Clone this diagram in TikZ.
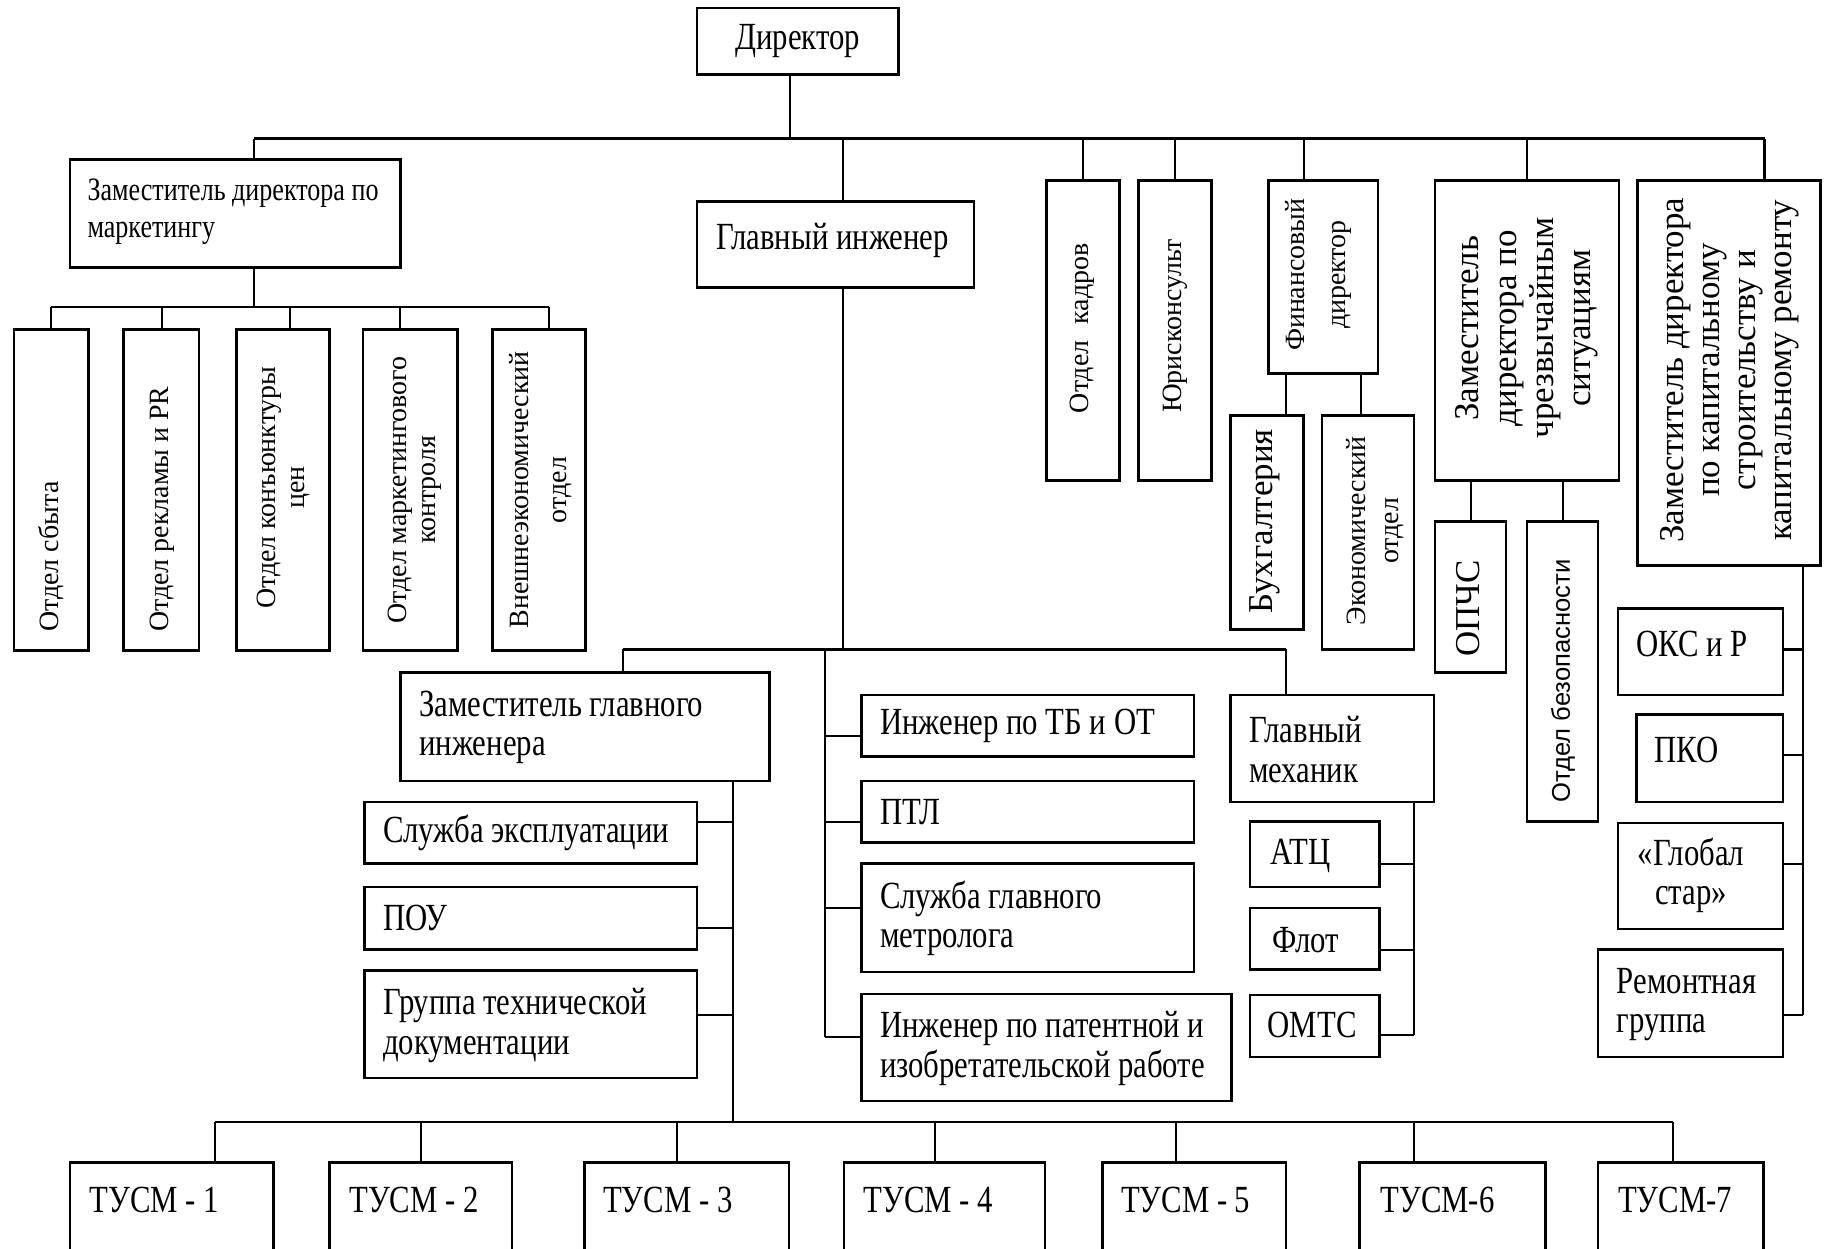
\documentclass[tikz,border=0pt]{standalone}
\usepackage{fontspec}
\setmainfont{Liberation Serif}
\newfontfamily\hfont[FakeStretch=0.8]{Liberation Serif}
\newfontfamily\vfont{Liberation Serif}
\newfontfamily\sfont{Liberation Sans}

\tikzset{
  box/.style={draw, line width=2.2pt, inner sep=0pt, outer sep=0pt},
  link/.style={line width=1.8pt},
  htxt/.style={inner sep=0pt, align=left, font=\hfont\fontsize{33}{34}\selectfont},
  mtxt/.style={htxt, font=\hfont\fontsize{28}{32}\selectfont},
  vtxt/.style={inner sep=0pt, align=center, rotate=90, font=\vfont\fontsize{24}{25}\selectfont},
  vbig/.style={vtxt, font=\vfont\fontsize{30}{32}\selectfont},
}

% rectangle given by its corners: name, x1, y1, x2, y2
\newcommand\bx[5]{%
  \pgfmathsetmacro\bxw{#4-#2}%
  \pgfmathsetmacro\bxh{#5-#3}%
  \pgfmathsetmacro\bxcx{(#2+#4)/2}%
  \pgfmathsetmacro\bxcy{(#3+#5)/2}%
  \node[box, minimum width=\bxw pt, minimum height=\bxh pt] (#1) at (\bxcx,\bxcy) {};}
% vertical drop from a box top (shifted) up to the level of a coordinate
\newcommand\drop[3]{%
  \path ([xshift=#2]#1.north) coordinate (#1-d);
  \draw[link] (#1-d) -- (#1-d |- #3);}
% horizontal tie from a box side (shifted) to a vertical stem
\newcommand\branch[4]{%
  \path ([yshift=#3]#1.#2) coordinate (#1-b);
  \draw[link] (#1-b) -- (#1-b -| #4);}

\begin{document}
\begin{tikzpicture}[x=1pt, y=-1pt]
\clip (0,0) rectangle (1568,1073);
\fill[white] (0,0) rectangle (1568,1073);

% ---- boxes ----
\bx{dir}{599}{7}{772}{64}
\bx{mkt}{60}{137}{344}{230}
\bx{gi}{599}{173}{837}{247}
\bx{kadr}{899}{155}{962}{413}
\bx{jur}{978}{155}{1041}{413}
\bx{fin}{1090}{155}{1184}{321}
\bx{buh}{1057}{357}{1120}{541}
\bx{eco}{1136}{357}{1215}{558}
\bx{chs}{1233}{155}{1391}{413}
\bx{opchs}{1233}{448}{1294}{578}
\bx{bez}{1312}{448}{1373}{706}
\bx{kap}{1407}{155}{1564}{486}
\bx{m1}{12}{283}{76}{559}
\bx{m2}{106}{283}{171}{559}
\bx{m3}{203}{283}{283}{559}
\bx{m4}{312}{283}{393}{559}
\bx{m5}{423}{283}{503}{559}
\bx{zgi}{344}{578}{661}{671}
\bx{se}{313}{689}{599}{742}
\bx{pou}{313}{762}{599}{816}
\bx{gtd}{313}{834}{599}{926}
\bx{tb}{740}{597}{1026}{650}
\bx{ptl}{740}{671}{1026}{724}
\bx{met}{740}{742}{1026}{835}
\bx{pat}{740}{854}{1058}{946}
\bx{gm}{1057}{597}{1232}{689}
\bx{atc}{1074}{706}{1185}{762}
\bx{flot}{1074}{780}{1185}{833}
\bx{omts}{1074}{855}{1185}{908}
\bx{oks}{1390}{523}{1532}{597}
\bx{pko}{1406}{614}{1532}{689}
\bx{glob}{1390}{707}{1532}{798}
\bx{rem}{1373}{816}{1532}{908}
\bx{t1}{60}{999}{235}{1100}
\bx{t2}{283}{999}{440}{1100}
\bx{t3}{502}{999}{678}{1100}
\bx{t4}{725}{999}{898}{1100}
\bx{t5}{947}{999}{1105}{1100}
\bx{t6}{1168}{999}{1328}{1100}
\bx{t7}{1373}{999}{1515}{1100}

% ---- horizontal labels ----
\node[htxt] (dir-t) at (dir) {Директор};
\node[mtxt, anchor=west] (mkt-t) at (75,182) {Заместитель директора по\\маркетингу};
\node[htxt, anchor=west] (gi-t) at (615,207) {Главный инженер};
\node[htxt, anchor=west] (zgi-t) at (360,625) {Заместитель главного\\инженера};
\node[htxt, anchor=west] (se-t) at (329,716) {Служба эксплуатации};
\node[htxt, anchor=west] (pou-t) at (329,789) {ПОУ};
\node[htxt, anchor=west] (gtd-t) at (329,881) {Группа технической\\документации};
\node[htxt, anchor=west] (tb-t) at (756,624) {Инженер по ТБ и ОТ};
\node[htxt, anchor=west] (ptl-t) at (756,698) {ПТЛ};
\node[htxt, anchor=west] (met-t) at (756,789) {Служба главного\\метролога};
\node[htxt, anchor=west] (pat-t) at (756,901) {Инженер по патентной и\\изобретательской работе};
\node[htxt, anchor=west] (gm-t) at (1073,644) {Главный\\механик};
\node[htxt, anchor=west] (atc-t) at (1091,735) {АТЦ};
\node[htxt, anchor=west] (flot-t) at (1093,808) {Флот};
\node[htxt, anchor=west] (omts-t) at (1089,881) {ОМТС};
\node[htxt, anchor=west] (oks-t) at (1406,553) {ОКС и Р};
\node[htxt, anchor=west] (pko-t) at (1421,644) {ПКО};
\node[htxt, anchor=west, align=center] (glob-t) at (1407,752) {«Глобал\\стар»};
\node[htxt, anchor=west] (rem-t) at (1389,863) {Ремонтная\\группа};
\node[htxt, anchor=west] (t1-t) at (77,1031) {ТУСМ - 1};
\node[htxt, anchor=west] (t2-t) at (300,1031) {ТУСМ - 2};
\node[htxt, anchor=west] (t3-t) at (518,1031) {ТУСМ - 3};
\node[htxt, anchor=west] (t4-t) at (742,1031) {ТУСМ - 4};
\node[htxt, anchor=west] (t5-t) at (963,1031) {ТУСМ - 5};
\node[htxt, anchor=west] (t6-t) at (1186,1031) {ТУСМ-6};
\node[htxt, anchor=west] (t7-t) at (1390,1031) {ТУСМ-7};

% ---- vertical labels ----
\node[vtxt, anchor=west] (m1-t) at (44,543) {Отдел сбыта};
\node[vtxt, anchor=west] (m2-t) at (139,543) {Отдел рекламы и PR};
\node[vtxt] (m3-t) at (243.5,419) {Отдел конъюнктуры\\цен};
\node[vtxt] (m4-t) at (356,421) {Отдел маркетингового\\контроля};
\node[vtxt] (m5-t) at (464.5,421) {Внешнеэкономический\\[8pt]отдел};
\node[vtxt] (kadr-t) at (929.5,282) {Отдел\hspace{8pt} кадров};
\node[vtxt] (jur-t) at (1010,280) {Юрисконсульт};
\node[vtxt] (fin-t) at (1132.5,236) {Финансовый\\[10pt]директор};
\node[vbig] (buh-t) at (1087,448) {Бухгалтерия};
\node[vtxt] (eco-t) at (1181.5,456) {Экономический\\[4pt]отдел};
\node[vbig] (chs-t) at (1312,282) {Заместитель\\директора по\\чрезвычайным\\ситуациям};
\node[vbig] (opchs-t) at (1261,523) {ОПЧС};
\node[vtxt, font=\sfont\fontsize{22}{24}\selectfont] (bez-t) at (1343,585) {Отдел безопасности};
\node[vbig, font=\vfont\fontsize{30}{31}\selectfont] (kap-t) at (1486,318)
  {Заместитель директора\\по капитальному\\строительству и\\капитальному ремонту};

% ---- top level ----
\coordinate (j0) at (679,119);
\coordinate (busL) at (218,119);
\coordinate (busR) at (1516,119);
\draw[link] (dir.south -| j0) -- (j0);
\draw[link] (busL) -- (busR);
\draw[link] (busL) -- (busL |- mkt.north);
\draw[link] (busR) -- (busR |- kap.north);
\drop{gi}{6pt}{j0}
\drop{kadr}{0pt}{j0}
\drop{jur}{0pt}{j0}
\drop{fin}{-17pt}{j0}
\drop{chs}{0pt}{j0}

% ---- marketing ----
\coordinate (mj) at (218,264);
\coordinate (mL) at (44,264);
\coordinate (mR) at (472,264);
\draw[link] (mkt.south -| mj) -- (mj);
\draw[link] (mL) -- (mR);
\drop{m1}{0pt}{mj}
\drop{m2}{0.5pt}{mj}
\drop{m3}{6pt}{mj}
\drop{m4}{-8.5pt}{mj}
\drop{m5}{9pt}{mj}

% ---- finance and emergencies ----
\draw[link] ([xshift=16.5pt]buh.north) -- ([xshift=16.5pt]buh.north |- fin.south);
\draw[link] ([xshift=-6.5pt]eco.north) -- ([xshift=-6.5pt]eco.north |- fin.south);
\draw[link] (opchs.north) -- (opchs.north |- chs.south);
\draw[link] (bez.north) -- (bez.north |- chs.south);

% ---- capital construction ----
\coordinate (kS) at (1549,872);
\draw[link] (kap.south -| kS) -- (kS);
\branch{oks}{east}{2pt}{kS}
\branch{pko}{east}{2.5pt}{kS}
\branch{glob}{east}{10.5pt}{kS}
\branch{rem}{east}{-10pt}{kS}

% ---- chief engineer ----
\coordinate (gj) at (724,558);
\coordinate (gL) at (535,558);
\coordinate (gR) at (1105,558);
\draw[link] (gi.south -| gj) -- (gj);
\draw[link] (gL) -- (gR);
\draw[link] (gL) -- (gL |- zgi.north);
\draw[link] (gR) -- (gR |- gm.north);

\coordinate (sA) at (709,558);
\coordinate (sB) at (709,891);
\draw[link] (sA) -- (sB);
\branch{tb}{west}{-8.5pt}{sA}
\branch{ptl}{west}{-8.5pt}{sA}
\branch{met}{west}{8.5pt}{sA}
\branch{pat}{west}{9pt}{sA}

\coordinate (mS) at (1215,889);
\draw[link] (gm.south -| mS) -- (mS);
\branch{atc}{east}{-8pt}{mS}
\branch{flot}{east}{-9.5pt}{mS}
\branch{omts}{east}{-7.5pt}{mS}

\coordinate (zs) at (630,964);
\draw[link] (zgi.south -| zs) -- (zs);
\branch{se}{east}{9.5pt}{zs}
\branch{pou}{east}{-8pt}{zs}
\branch{gtd}{east}{8pt}{zs}

% ---- territorial units ----
\coordinate (tL) at (185,964);
\coordinate (tR) at (1437,964);
\draw[link] (tL) -- (tR);
\drop{t1}{37.5pt}{tL}
\drop{t2}{0.5pt}{tL}
\drop{t3}{-8pt}{tL}
\drop{t4}{-8.5pt}{tL}
\drop{t5}{-16pt}{tL}
\drop{t6}{-33pt}{tL}
\drop{t7}{-7pt}{tL}
\end{tikzpicture}
\end{document}
